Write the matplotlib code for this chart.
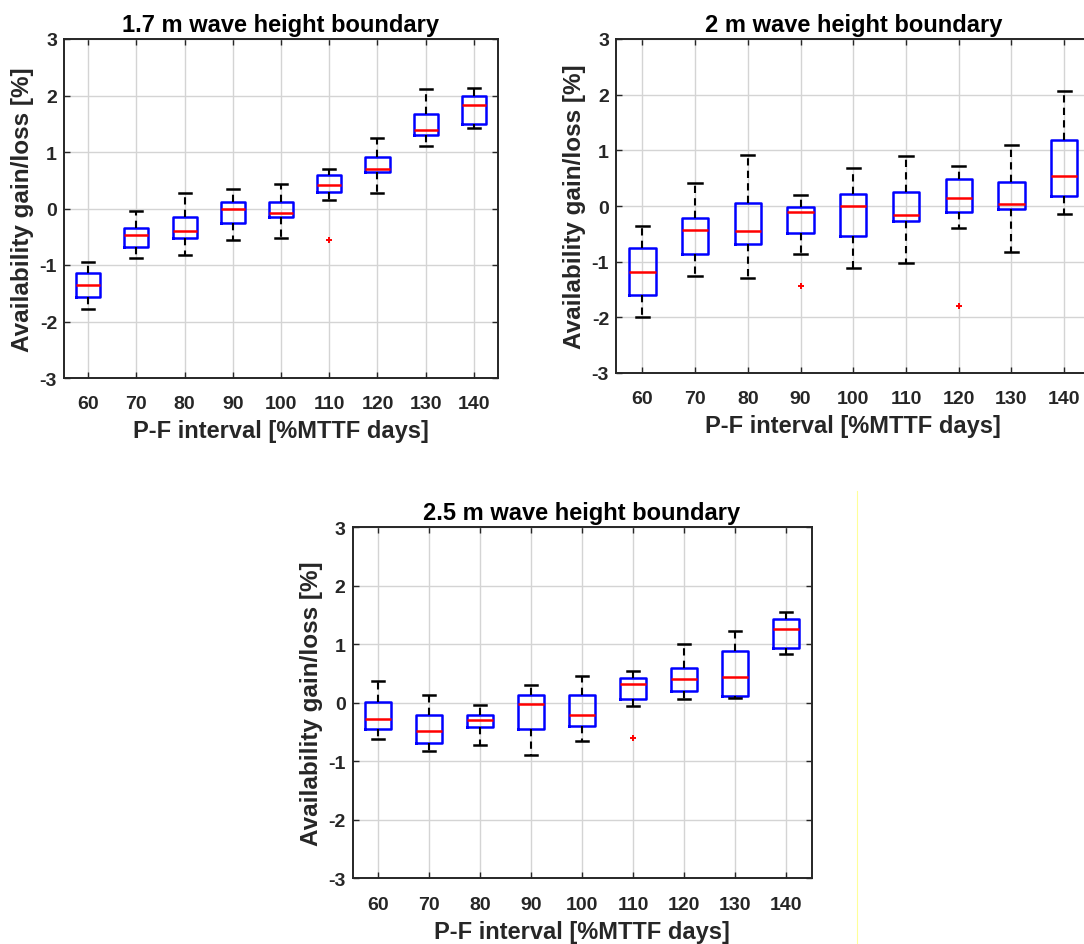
import matplotlib
matplotlib.use("Agg")
import matplotlib.pyplot as plt
from matplotlib.lines import Line2D

plt.rcParams['font.family'] = ['Liberation Sans', 'DejaVu Sans']
plt.rcParams['font.weight'] = 'bold'

intervals = [60, 70, 80, 90, 100, 110, 120, 130, 140]

# Panel 1: 1.7 m
p1_whislo = [-1.77, -0.88, -0.82, -0.55, -0.52, 0.15, 0.27, 1.11, 1.42]
p1_q1     = [-1.57, -0.68, -0.52, -0.25, -0.145, 0.29, 0.645, 1.30, 1.50]
p1_med    = [-1.36, -0.47, -0.40, 0.00, -0.085, 0.42, 0.70, 1.39, 1.84]
p1_q3     = [-1.15, -0.35, -0.15, 0.115, 0.11, 0.59, 0.91, 1.67, 2.00]
p1_whishi = [-0.95, -0.05, 0.28, 0.34, 0.43, 0.70, 1.24, 2.12, 2.13]
p1_fliers = [[], [], [], [], [], [-0.55], [], [], []]

# Panel 2: 2 m
p2_whislo = [-2.00, -1.25, -1.29, -0.87, -1.11, -1.02, -0.40, -0.82, -0.14]
p2_q1     = [-1.60, -0.86, -0.68, -0.49, -0.53, -0.27, -0.11, -0.06, 0.18]
p2_med    = [-1.19, -0.44, -0.45, -0.11, 0.00, -0.16, 0.14, 0.04, 0.54]
p2_q3     = [-0.75, -0.22, 0.05, -0.02, 0.22, 0.25, 0.49, 0.44, 1.19]
p2_whishi = [-0.36, 0.42, 0.92, 0.20, 0.68, 0.90, 0.71, 1.10, 2.07]
p2_fliers = [[], [], [], [-1.44], [], [], [-1.79], [], []]

# Panel 3: 2.5 m
p3_whislo = [-0.62, -0.82, -0.72, -0.89, -0.65, -0.05, 0.065, 0.08, 0.84]
p3_q1     = [-0.44, -0.68, -0.41, -0.45, -0.40, 0.06, 0.20, 0.12, 0.93]
p3_med    = [-0.28, -0.48, -0.29, -0.02, -0.20, 0.32, 0.40, 0.44, 1.27]
p3_q3     = [0.01, -0.21, -0.20, 0.13, 0.14, 0.43, 0.60, 0.89, 1.43]
p3_whishi = [0.38, 0.14, -0.04, 0.30, 0.45, 0.55, 1.00, 1.23, 1.56]
p3_fliers = [[], [], [], [], [], [-0.61], [], [], []]

titles = ["1.7 m wave height boundary", "2 m wave height boundary", "2.5 m wave height boundary"]
xlabel = "P-F interval [%MTTF days]"
ylabel = "Availability gain/loss [%]"
yticks = [-3, -2, -1, 0, 1, 2, 3]

panels = [
    (p1_whislo, p1_q1, p1_med, p1_q3, p1_whishi, p1_fliers),
    (p2_whislo, p2_q1, p2_med, p2_q3, p2_whishi, p2_fliers),
    (p3_whislo, p3_q1, p3_med, p3_q3, p3_whishi, p3_fliers),
]

W, H = 1084, 945
rects_px = [
    (64, 40, 498, 379),
    (616, 40, 1090.5, 374),
    (352.5, 528.3, 811.5, 879.3),
]

fig = plt.figure(figsize=(W / 100, H / 100), dpi=100)
spine_col = '#262626'

for (l, t, r, b), (wlo, q1, med, q3, whi, fl), title in zip(rects_px, panels, titles):
    ax = fig.add_axes([l / W, 1 - b / H, (r - l) / W, (b - t) / H])
    stats = []
    for i in range(len(intervals)):
        stats.append(dict(med=med[i], q1=q1[i], q3=q3[i], whislo=wlo[i], whishi=whi[i],
                          fliers=fl[i], label=str(intervals[i])))
    ax.bxp(stats, positions=range(1, len(intervals) + 1), widths=0.5,
           showfliers=True,
           boxprops=dict(color='#0000ff', linewidth=1.8),
           medianprops=dict(color='#ff0000', linewidth=1.8),
           whiskerprops=dict(color='black', linewidth=1.5, linestyle=(0, (3.5, 2.5))),
           capprops=dict(color='black', linewidth=1.8),
           flierprops=dict(marker='+', markeredgecolor='#ff0000', markersize=5,
                           markeredgewidth=1.4, linestyle='none'))
    ax.set_xlim(0.5, len(intervals) + 0.5)
    ax.set_ylim(-3, 3)
    ax.set_yticks(yticks)
    ax.set_yticklabels([str(v) for v in yticks])
    ax.set_xticks(range(1, len(intervals) + 1))
    ax.set_xticklabels([str(v) for v in intervals])
    ax.grid(True, color='#d4d4d4', linewidth=1.0)
    ax.set_axisbelow(True)
    for s in ax.spines.values():
        s.set_color(spine_col)
        s.set_linewidth(1.4)
    ax.tick_params(direction='in', length=4, width=1.0, color=spine_col,
                   top=True, right=True, labelsize=14, labelcolor='#262626')
    ax.tick_params(axis='x', pad=12.5)
    ax.tick_params(axis='y', pad=5)
    for lab in ax.get_xticklabels() + ax.get_yticklabels():
        lab.set_fontweight('bold')
    ax.set_title(title, fontsize=17, fontweight='bold', pad=6, color='black')
    ax.set_xlabel(xlabel, fontsize=17, fontweight='bold', color='#262626', labelpad=5)
    ax.set_ylabel(ylabel, fontsize=17.5, fontweight='bold', color='#262626', labelpad=4)

# faint yellow line at right of third panel (as in reference)
fig.add_artist(Line2D([856.5 / W, 856.5 / W], [1 - 492 / H, 0], color='#ffff99', linewidth=0.8))

fig.savefig('out.png', dpi=100)
